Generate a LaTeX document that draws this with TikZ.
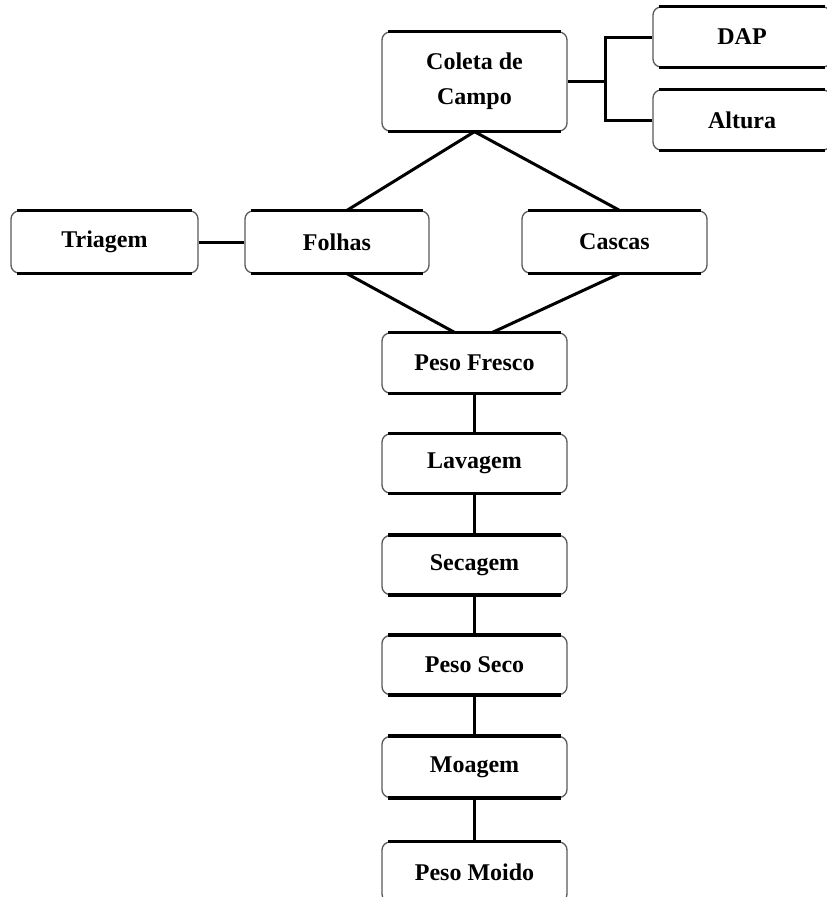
\documentclass[tikz,border=0pt]{standalone}
\usepackage{fontspec}
\setmainfont{Liberation Serif}
\usetikzlibrary{calc}
\tikzset{
  box/.style={draw=black!65, line width=1.3pt, rounded corners=8pt, fill=white,
    minimum width=185pt, minimum height=60pt, inner sep=0pt, align=center,
    font=\fontsize{24}{35}\selectfont\bfseries},
  conn/.style={line width=3pt, black},
  edge/.style={line width=3.6pt, black, line cap=butt}
}
\newcommand{\thickedges}[1]{%
  \draw[edge] ($(#1.north west)+(7,0)$) -- ($(#1.north east)+(-7,0)$);
  \draw[edge] ($(#1.south west)+(7,0)$) -- ($(#1.south east)+(-7,0)$);}
\begin{document}
\begin{tikzpicture}[x=1pt,y=-1pt]
\useasboundingbox (0,0) rectangle (827,897);
\clip (0,0) rectangle (827,897);
\node[box, minimum height=99pt] (coleta) at (474.5,81.5) {Coleta de\\Campo};
\node[box, minimum width=178pt] (dap) at (742,37) {DAP};
\node[box, minimum width=178pt] (altura) at (742,120) {Altura};
\node[box, minimum width=187pt, minimum height=62pt] (triagem) at (104.5,242) {Triagem};
\node[box, minimum width=184pt, minimum height=62pt] (folhas) at (337,242) {Folhas};
\node[box, minimum height=62pt] (cascas) at (614.5,242) {Cascas};
\node[box] (fresco) at (474.5,363) {Peso Fresco};
\node[box, minimum height=59pt] (lavagem) at (474.5,463.5) {Lavagem};
\node[box, minimum height=59pt] (secagem) at (474.5,565) {Secagem};
\node[box, minimum height=59pt] (seco) at (474.5,665) {Peso Seco};
\node[box, minimum height=61pt] (moagem) at (474.5,767) {Moagem};
\node[box] (moido) at (474.5,872) {Peso Moido};
\foreach \n in {coleta,dap,altura,triagem,folhas,cascas,fresco,lavagem,secagem,seco,moagem,moido}{\thickedges{\n}}
% connectors
\draw[conn] (coleta.east) -- ++(38,0);
\draw[conn] (dap.west) -| ($(coleta.east)+(38,0)$) |- (altura.west);
\draw[conn] (coleta.south) -- ($(folhas.north)+(10,0)$);
\draw[conn] (coleta.south) -- ($(cascas.north)+(5,0)$);
\draw[conn] ($(folhas.south)+(10,0)$) -- ($(fresco.north)+(-20,0)$);
\draw[conn] ($(cascas.south)+(5,0)$) -- ($(fresco.north)+(18,0)$);
\draw[conn] (triagem.east) -- (folhas.west);
\draw[conn] (fresco.south) -- (lavagem.north);
\draw[conn] (lavagem.south) -- (secagem.north);
\draw[conn] (secagem.south) -- (seco.north);
\draw[conn] (seco.south) -- (moagem.north);
\draw[conn] (moagem.south) -- (moido.north);
\end{tikzpicture}
\end{document}
